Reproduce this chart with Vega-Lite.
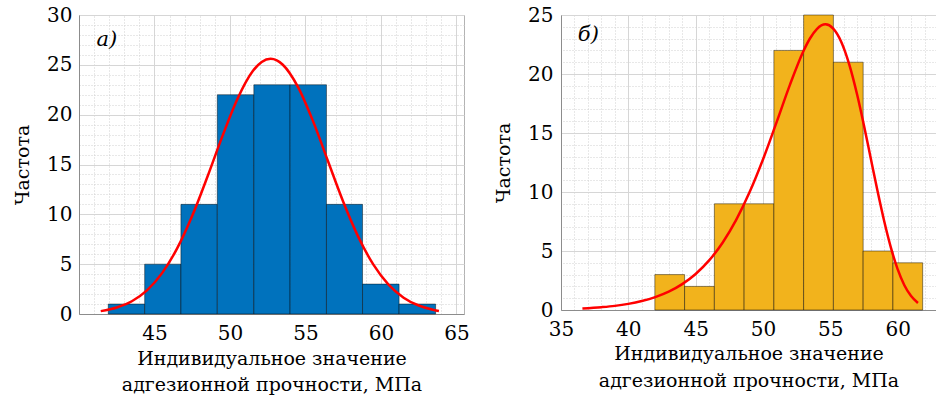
{
  "$schema": "https://vega.github.io/schema/vega-lite/v6.json",
  "padding": {"left": 13, "top": 4, "right": 0, "bottom": 0},
  "bounds": "flush",
  "spacing": 97,
  "background": "white",
  "datasets": {
    "binsA": [
      {"lo": 41.94, "hi": 44.35, "n": 1},
      {"lo": 44.35, "hi": 46.75, "n": 5},
      {"lo": 46.75, "hi": 49.16, "n": 11},
      {"lo": 49.16, "hi": 51.58, "n": 22},
      {"lo": 51.58, "hi": 53.98, "n": 23},
      {"lo": 53.98, "hi": 56.39, "n": 23},
      {"lo": 56.39, "hi": 58.78, "n": 11},
      {"lo": 58.78, "hi": 61.2, "n": 3},
      {"lo": 61.2, "hi": 63.62, "n": 1}
    ],
    "curveA": [
      {"x": 41.44, "y": 0.29}, {"x": 42.5, "y": 0.65}, {"x": 43.5, "y": 1.28}, {"x": 44.5, "y": 2.37},
      {"x": 45.5, "y": 4.1}, {"x": 46.5, "y": 6.58}, {"x": 47.5, "y": 9.85}, {"x": 48.5, "y": 13.74},
      {"x": 49.5, "y": 17.85}, {"x": 50.5, "y": 21.6}, {"x": 51.5, "y": 24.35}, {"x": 52.1, "y": 25.29},
      {"x": 52.69, "y": 25.6}, {"x": 53.1, "y": 25.45}, {"x": 53.5, "y": 25.01}, {"x": 54.5, "y": 22.79},
      {"x": 55.5, "y": 19.35}, {"x": 56.5, "y": 15.3}, {"x": 57.5, "y": 11.27}, {"x": 58.5, "y": 7.74},
      {"x": 59.5, "y": 4.95}, {"x": 60.5, "y": 2.95}, {"x": 61.5, "y": 1.64}, {"x": 62.5, "y": 0.85},
      {"x": 63.5, "y": 0.41}, {"x": 63.84, "y": 0.31}
    ],
    "binsB": [
      {"lo": 41.97, "hi": 44.18, "n": 3},
      {"lo": 44.18, "hi": 46.39, "n": 2},
      {"lo": 46.39, "hi": 48.6, "n": 9},
      {"lo": 48.6, "hi": 50.81, "n": 9},
      {"lo": 50.81, "hi": 53.02, "n": 22},
      {"lo": 53.02, "hi": 55.23, "n": 25},
      {"lo": 55.23, "hi": 57.44, "n": 21},
      {"lo": 57.44, "hi": 59.65, "n": 5},
      {"lo": 59.65, "hi": 61.86, "n": 4}
    ],
    "curveB": [
      {"x": 36.59, "y": 0.13}, {"x": 38, "y": 0.24}, {"x": 39, "y": 0.35}, {"x": 40, "y": 0.52},
      {"x": 41, "y": 0.76}, {"x": 42, "y": 1.09}, {"x": 43, "y": 1.55}, {"x": 44, "y": 2.19},
      {"x": 45, "y": 3.05}, {"x": 46, "y": 4.2}, {"x": 47, "y": 5.7}, {"x": 48, "y": 7.61},
      {"x": 49, "y": 9.97}, {"x": 50, "y": 12.76}, {"x": 51, "y": 15.88}, {"x": 52, "y": 19.08},
      {"x": 53, "y": 21.93}, {"x": 53.5, "y": 23.03}, {"x": 54, "y": 23.81}, {"x": 54.64, "y": 24.21},
      {"x": 55.2, "y": 23.87}, {"x": 55.8, "y": 22.76}, {"x": 56.4, "y": 20.84}, {"x": 57, "y": 18.22},
      {"x": 57.5, "y": 15.64}, {"x": 58, "y": 12.88}, {"x": 58.5, "y": 10.12}, {"x": 59, "y": 7.54},
      {"x": 59.5, "y": 5.29}, {"x": 60, "y": 3.46}, {"x": 60.5, "y": 2.1}, {"x": 61, "y": 1.18},
      {"x": 61.51, "y": 0.59}
    ],
    "labA": [{"t": "а)"}],
    "labB": [{"t": "б)"}]
  },
  "config": {
    "font": "DejaVu Serif",
    "view": {"stroke": "#b3b3b3", "strokeWidth": 1},
    "axis": {
      "labelFont": "DejaVu Serif",
      "titleFont": "DejaVu Serif",
      "labelFontSize": 20,
      "labelColor": "#000000",
      "titleFontSize": 19,
      "titleFontWeight": "normal",
      "titleColor": "#000000",
      "gridColor": "#d6d6d6",
      "gridWidth": 1,
      "domainColor": "#8c8c8c",
      "domainWidth": 1,
      "ticks": false,
      "labelFlush": false,
      "labelOverlap": false
    }
  },
  "hconcat": [
    {
      "width": 385,
      "height": 299,
      "resolve": {"axis": {"x": "independent", "y": "independent"}},
      "layer": [
        {
          "data": {"name": "binsA"},
          "mark": {"type": "bar", "color": "#0072BD", "stroke": "#000000", "strokeOpacity": 0.45, "strokeWidth": 1},
          "encoding": {
            "x": {"field": "lo", "type": "quantitative",
              "scale": {"domain": [40, 65.5], "nice": false, "zero": false},
              "axis": {"values": [45, 50, 55, 60, 65], "grid": true, "labelPadding": 9,
                "title": ["Индивидуальное значение", "адгезионной прочности, МПа"],
                "titlePadding": 6, "titleLineHeight": 26}},
            "x2": {"field": "hi"},
            "y": {"field": "n", "type": "quantitative",
              "scale": {"domain": [0, 30], "nice": false},
              "axis": {"values": [0, 5, 10, 15, 20, 25, 30], "grid": true, "labelPadding": 7,
                "title": "Частота", "titlePadding": 14}},
            "y2": {"datum": 0}
          }
        },
        {
          "data": {"name": "curveA"},
          "mark": {"type": "line", "color": "#FF0000", "strokeWidth": 2.5, "interpolate": "monotone"},
          "encoding": {
            "x": {"field": "x", "type": "quantitative",
              "axis": {"orient": "top", "values": [41,42,43,44,46,47,48,49,51,52,53,54,56,57,58,59,61,62,63,64],
                "grid": true, "gridDash": [1, 2], "gridColor": "#d0d0d0", "labels": false, "domain": false, "title": null}},
            "y": {"field": "y", "type": "quantitative",
              "axis": {"orient": "right", "values": [1,2,3,4,6,7,8,9,11,12,13,14,16,17,18,19,21,22,23,24,26,27,28,29],
                "grid": true, "gridDash": [1, 2], "gridColor": "#d0d0d0", "labels": false, "domain": false, "title": null}}
          }
        },
        {
          "data": {"name": "labA"},
          "mark": {"type": "text", "font": "DejaVu Serif", "fontStyle": "italic", "fontSize": 21, "color": "#000000"},
          "encoding": {
            "x": {"datum": 41.85, "type": "quantitative", "axis": null},
            "y": {"datum": 27.5, "type": "quantitative", "axis": null},
            "text": {"field": "t"}
          }
        }
      ]
    },
    {
      "width": 375,
      "height": 295,
      "resolve": {"axis": {"x": "independent", "y": "independent"}},
      "layer": [
        {
          "data": {"name": "binsB"},
          "mark": {"type": "bar", "color": "#F2B31C", "stroke": "#000000", "strokeOpacity": 0.45, "strokeWidth": 1},
          "encoding": {
            "x": {"field": "lo", "type": "quantitative",
              "scale": {"domain": [35, 62.85], "nice": false, "zero": false},
              "axis": {"values": [35, 40, 45, 50, 55, 60], "grid": true, "labelPadding": 9,
                "title": ["Индивидуальное значение", "адгезионной прочности, МПа"],
                "titlePadding": 5, "titleLineHeight": 27}},
            "x2": {"field": "hi"},
            "y": {"field": "n", "type": "quantitative",
              "scale": {"domain": [0, 25], "nice": false},
              "axis": {"values": [0, 5, 10, 15, 20, 25], "grid": true, "labelPadding": 8,
                "title": "Частота", "titlePadding": 14}},
            "y2": {"datum": 0}
          }
        },
        {
          "data": {"name": "curveB"},
          "mark": {"type": "line", "color": "#FF0000", "strokeWidth": 2.5, "interpolate": "monotone"},
          "encoding": {
            "x": {"field": "x", "type": "quantitative",
              "axis": {"orient": "top", "values": [36,37,38,39,41,42,43,44,46,47,48,49,51,52,53,54,56,57,58,59,61,62],
                "grid": true, "gridDash": [1, 2], "gridColor": "#d0d0d0", "labels": false, "domain": false, "title": null}},
            "y": {"field": "y", "type": "quantitative",
              "axis": {"orient": "right", "values": [1,2,3,4,6,7,8,9,11,12,13,14,16,17,18,19,21,22,23,24],
                "grid": true, "gridDash": [1, 2], "gridColor": "#d0d0d0", "labels": false, "domain": false, "title": null}}
          }
        },
        {
          "data": {"name": "labB"},
          "mark": {"type": "text", "font": "DejaVu Serif", "fontStyle": "italic", "fontSize": 21, "color": "#000000"},
          "encoding": {
            "x": {"datum": 37.03, "type": "quantitative", "axis": null},
            "y": {"datum": 23.3, "type": "quantitative", "axis": null},
            "text": {"field": "t"}
          }
        }
      ]
    }
  ]
}
